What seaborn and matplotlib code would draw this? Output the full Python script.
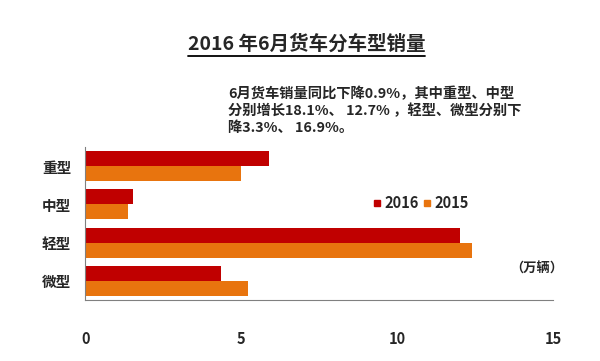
import pandas as pd
import numpy as np
import matplotlib.pyplot as plt
import seaborn as sns
from matplotlib.lines import Line2D

# data (万辆)
types = ['重型', '中型', '轻型', '微型']
sales_2016 = [5.88, 1.54, 12.0, 4.35]
sales_2015 = [5.0, 1.36, 12.4, 5.22]
years = ['2016', '2015']

df = pd.DataFrame({
    'type': types * 2,
    'year': [years[0]] * 4 + [years[1]] * 4,
    'sales': sales_2016 + sales_2015,
})

sns.set_theme(style='white')
plt.rcParams['font.family'] = ['Noto Sans CJK SC', 'DejaVu Sans']
plt.rcParams['font.weight'] = 'bold'

fig = plt.figure(figsize=(6, 3.61), dpi=100)
ax = fig.add_axes([0.142, 0.169, 0.78, 0.424])

palette = {'2016': '#C00000', '2015': '#E8740E'}
sns.barplot(data=df, x='sales', y='type', hue='year', order=types,
            hue_order=years, palette=palette, orient='h', width=0.78,
            saturation=1, linewidth=0, ax=ax, legend=False)

ax.set_xlim(0, 15)
ax.set_ylim(3.5, -0.5)
ax.set_xticks([0, 5, 10, 15])
ax.set_xticklabels(['0', '5', '10', '15'], fontsize=10.5, fontweight='bold')
ax.tick_params(axis='x', direction='in', length=5, width=0.8, color='#808080', pad=22)
ax.tick_params(axis='y', length=0, pad=10, labelsize=10.5)
for lbl in ax.get_yticklabels():
    lbl.set_fontweight('bold')
ax.set_xlabel('')
ax.set_ylabel('')
for s in ['top', 'right']:
    ax.spines[s].set_visible(False)
for s in ['left', 'bottom']:
    ax.spines[s].set_color('#808080')
    ax.spines[s].set_linewidth(0.8)

# legend
handles = [Line2D([], [], marker='s', linestyle='', markersize=4.5,
                  color=palette[y]) for y in years]
ax.legend(handles, years, loc='center left', bbox_to_anchor=(0.6, 0.634),
          ncol=2, frameon=False, handlelength=0.5, handletextpad=0.25,
          columnspacing=0.35, borderpad=0, prop={'size': 10.5, 'weight': 'bold'})

# unit label
fig.text(0.895, 0.255, '（万辆）', fontsize=9.5, fontweight='bold', ha='center', va='center')

# title with underline
fig.text(0.512, 0.878, '2016 年6月货车分车型销量', fontsize=14, fontweight='bold',
         ha='center', va='center')
fig.add_artist(Line2D([0.313, 0.708], [0.845, 0.845], color='black', linewidth=1.3))

# note
note = '6月货车销量同比下降0.9%，其中重型、中型\n分别增长18.1%、 12.7% ，轻型、微型分别下\n降3.3%、 16.9%。'
fig.text(0.38, 0.76, note, fontsize=10.3, fontweight='bold', ha='left', va='top',
         linespacing=1.25)

fig.savefig('out.png', dpi=100)
